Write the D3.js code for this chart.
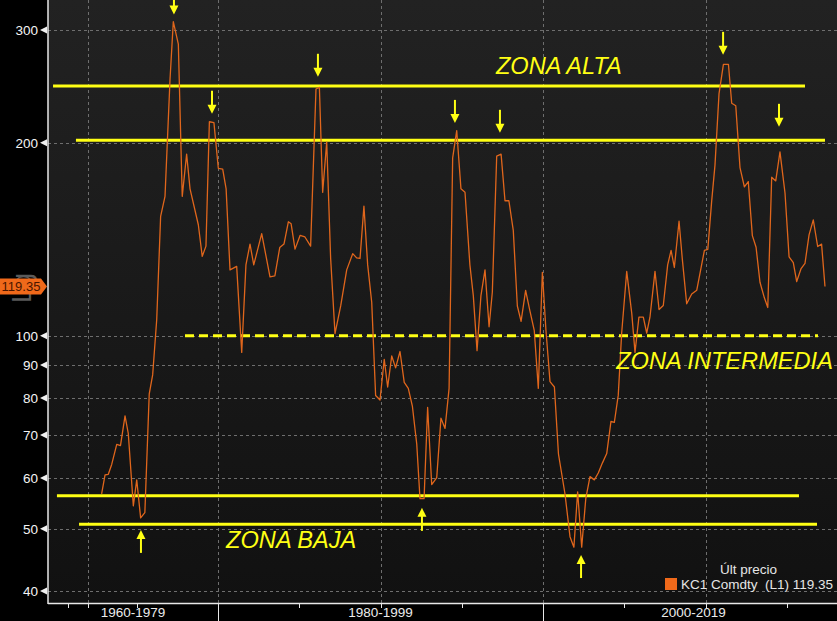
<!DOCTYPE html>
<html>
<head>
<meta charset="utf-8">
<script src="https://cdn.jsdelivr.net/npm/d3@7/dist/d3.min.js"></script>
<style>
  html, body { margin: 0; padding: 0; background: #000; overflow: hidden; }
  svg { display: block; }
</style>
</head>
<body>
<script>
// ---------------- DATA ----------------
const years = [1972.84,1973.05,1973.25,1973.46,1973.77,1974.00,1974.28,1974.48,1974.79,1975.00,1975.24,1975.50,1975.77,1975.98,1976.23,1976.47,1976.74,1977.05,1977.25,1977.56,1977.80,1978.07,1978.28,1978.79,1979.03,1979.26,1979.47,1979.75,1980.02,1980.29,1980.50,1980.74,1981.15,1981.46,1981.72,1981.97,1982.20,1982.69,1983.20,1983.50,1983.80,1984.06,1984.33,1984.50,1984.74,1985.05,1985.35,1985.70,1986.03,1986.24,1986.44,1986.69,1986.93,1987.20,1987.55,1987.92,1988.29,1988.53,1988.74,1988.98,1989.21,1989.46,1989.70,1989.97,1990.23,1990.44,1990.69,1990.93,1991.20,1991.46,1991.71,1991.96,1992.23,1992.43,1992.68,1992.90,1993.15,1993.46,1993.72,1993.97,1994.22,1994.44,1994.69,1994.95,1995.20,1995.50,1995.71,1995.94,1996.18,1996.43,1996.68,1996.88,1997.15,1997.42,1997.66,1997.90,1998.17,1998.42,1998.65,1998.93,1999.20,1999.46,1999.71,1999.96,2000.18,2000.43,2000.70,2000.95,2001.35,2001.66,2001.90,2002.13,2002.38,2002.63,2002.89,2003.16,2003.40,2003.65,2003.92,2004.18,2004.39,2004.63,2004.84,2005.15,2005.46,2005.66,2005.90,2006.17,2006.38,2006.58,2006.89,2007.14,2007.40,2007.67,2007.88,2008.08,2008.37,2008.57,2008.84,2009.15,2009.46,2009.93,2010.14,2010.38,2010.58,2010.83,2011.10,2011.41,2011.61,2011.86,2012.12,2012.39,2012.63,2012.88,2013.11,2013.35,2013.62,2013.83,2014.07,2014.32,2014.58,2014.89,2015.14,2015.40,2015.61,2015.88,2016.12,2016.37,2016.63,2016.90,2017.14,2017.35];
const prices = [56.7,60.7,60.8,63.0,67.7,67.4,75.0,70.4,54.3,59.6,52.0,53.0,81.2,86.9,106.0,153.5,165.0,251.7,309.0,285.0,165.0,192.0,169.5,149.0,133.0,138.0,215.7,215.0,182.5,182.0,169.5,126.7,128.3,94.2,129.0,139.0,129.0,144.3,123.6,124.0,137.3,139.0,150.6,149.5,136.5,143.4,142.6,138.0,242.6,244.0,167.4,200.5,132.3,100.8,111.3,126.7,134.3,132.3,132.0,159.3,129.0,112.7,80.7,79.4,91.9,83.2,93.0,89.1,94.5,84.6,82.8,77.7,67.8,55.7,55.7,77.3,58.6,60.1,74.4,71.7,82.8,189.4,209.0,169.5,167.4,129.0,115.5,94.8,115.5,126.7,103.3,116.9,190.6,192.0,162.4,162.4,146.0,111.3,105.3,117.7,109.2,102.0,82.8,125.6,102.0,84.8,83.2,65.4,56.7,48.6,46.8,57.1,46.8,55.7,60.3,59.6,61.1,63.3,65.5,73.5,73.3,80.8,101.0,126.0,108.4,94.2,106.9,106.9,101.0,106.9,126.0,109.9,111.5,129.0,135.9,127.8,150.9,131.8,112.2,116.2,117.8,135.9,136.4,162.5,184.4,238.6,265.0,265.0,230.5,228.5,183.0,170.7,174.0,143.3,137.4,121.2,114.6,110.7,176.7,174.4,193.6,167.0,132.8,130.0,121.5,127.3,129.7,143.7,151.6,137.8,139.0,119.35];
const lastPrice = 119.35;
const seriesName = "KC1 Comdty  (L1) 119.35";
const legendTitle = "Últ precio";

const yTickValues = [300, 200, 100, 90, 80, 70, 60, 50, 40];
const xTickYears = [1970.8, 1972, 1975, 1980, 1985, 1990, 1995, 2000, 2005, 2010, 2015];
const xGridYears = [1972, 1980, 1990, 2000, 2010];
const xMajorYears = [1980, 2000];
const periodLabels = ["1960-1979", "1980-1999", "2000-2019"];
const periodStart = [1960, 1980, 2000];
const periodEnd = [1980, 2000, 2020];

// zone lines (value levels and year extents)
const zoneLevels = [245.3, 201.9, 100, 56.3, 50.8];
const zoneStart = [1969.85, 1971.26, 1977.97, 1970.09, 1971.45];
const zoneEnd = [2016.12, 2017.35, 2016.92, 2015.75, 2016.86];
const zoneDashed = [false, false, true, false, false];

const zoneTexts = ["ZONA ALTA", "ZONA INTERMEDIA", "ZONA BAJA"];
const zoneTextYears = [1997.1, 2004.5, 1980.5];
const zoneTextLevel = [245.3, 100, 50.8];

// arrows: year, value at tip, direction
const arrowYears = [1977.29, 1979.63, 1986.15, 1994.58, 1997.35, 2011.08, 2014.52, 1975.26, 1992.55, 2002.34];
const arrowTips = [317, 222, 253.5, 214.8, 207.3, 274.3, 211.8, 49.8, 53.9, 45.5];
const arrowDirs = ["down","down","down","down","down","down","down","up","up","up"];

// ---------------- CHART ----------------
const W = 837, H = 621;
const left = 48, bottom = 603;
const x = d3.scaleLinear().domain([1969.54, 2018.52]).range([left, 844]);
const y = d3.scaleLog().domain([38.3, 334]).range([bottom, 0]);

const svg = d3.select("body").append("svg").attr("width", W).attr("height", H);
const defs = svg.append("defs");
const grad = defs.append("linearGradient").attr("id", "bg").attr("x1", 0).attr("y1", 0).attr("x2", 0).attr("y2", 1);
grad.append("stop").attr("offset", "0%").attr("stop-color", "#222222");
grad.append("stop").attr("offset", "100%").attr("stop-color", "#111111");
defs.append("clipPath").attr("id", "plotclip").append("rect")
  .attr("x", left).attr("y", 0).attr("width", W - left).attr("height", bottom);

svg.append("rect").attr("width", W).attr("height", H).attr("fill", "#000");
svg.append("rect").attr("x", left).attr("y", 0).attr("width", W - left).attr("height", bottom).attr("fill", "url(#bg)");

const plot = svg.append("g").attr("clip-path", "url(#plotclip)");

// grid
plot.selectAll(".hg").data(yTickValues).enter().append("line")
  .attr("x1", left).attr("x2", W).attr("y1", d => Math.round(y(d)) + 0.5).attr("y2", d => Math.round(y(d)) + 0.5)
  .attr("stroke", "#6e6e6e").attr("stroke-width", 1).attr("stroke-dasharray", "3,3");
plot.selectAll(".vg").data(xGridYears).enter().append("line")
  .attr("y1", 0).attr("y2", bottom).attr("x1", d => Math.round(x(d)) + 0.5).attr("x2", d => Math.round(x(d)) + 0.5)
  .attr("stroke", "#6e6e6e").attr("stroke-width", 1).attr("stroke-dasharray", "3,3");

// zone lines
const zones = zoneLevels.map((v, i) => ({v, s: zoneStart[i], e: zoneEnd[i], dashed: zoneDashed[i]}));
plot.selectAll(".zone").data(zones).enter().append("line")
  .attr("x1", d => x(d.s)).attr("x2", d => x(d.e))
  .attr("y1", d => y(d.v)).attr("y2", d => y(d.v))
  .attr("stroke", "#ffff14").attr("stroke-width", 3)
  .attr("stroke-dasharray", d => d.dashed ? "9,5" : null);

// price line
const data = years.map((yr, i) => ({year: yr, value: prices[i]}));
plot.append("path").datum(data)
  .attr("fill", "none").attr("stroke", "#e0661c").attr("stroke-width", 1.3).attr("stroke-linejoin", "round")
  .attr("d", d3.line().x(d => x(d.year)).y(d => y(d.value)));

// arrows
const arrows = arrowYears.map((yr, i) => ({year: yr, tip: arrowTips[i], dir: arrowDirs[i]}));
const ag = plot.selectAll(".arrow").data(arrows).enter().append("g");
ag.append("line")
  .attr("x1", d => x(d.year)).attr("x2", d => x(d.year))
  .attr("y1", d => d.dir === "down" ? y(d.tip) - 23 : y(d.tip) + 23)
  .attr("y2", d => d.dir === "down" ? y(d.tip) - 6 : y(d.tip) + 6)
  .attr("stroke", "#ffff14").attr("stroke-width", 2);
ag.append("path")
  .attr("d", d => {
    const cx = x(d.year), ty = y(d.tip);
    const s = d.dir === "down" ? -1 : 1;
    return `M${cx},${ty} L${cx - 4.5},${ty + s * 9} L${cx + 4.5},${ty + s * 9} Z`;
  })
  .attr("fill", "#ffff14");

// zone texts
const zoneOffsets = [-12, 33, 24];
svg.selectAll(".ztxt").data(zoneTexts).enter().append("text")
  .attr("x", (d, i) => x(zoneTextYears[i]))
  .attr("y", (d, i) => y(zoneTextLevel[i]) + zoneOffsets[i])
  .attr("fill", "#ffff14").attr("font-family", "Liberation Sans, Arial, sans-serif")
  .attr("font-style", "italic").attr("font-size", "23.6px")
  .text(d => d);

// axes lines
svg.append("line").attr("x1", left).attr("x2", left).attr("y1", 0).attr("y2", bottom + 1)
  .attr("stroke", "#e8e8e8").attr("stroke-width", 1.5);
svg.append("line").attr("x1", left).attr("x2", W).attr("y1", bottom + 0.5).attr("y2", bottom + 0.5)
  .attr("stroke", "#e8e8e8").attr("stroke-width", 1.5);

// "Lg" label
svg.append("text").attr("transform", `translate(31,288) rotate(-90)`)
  .attr("text-anchor", "middle").attr("fill", "#5a5a5a")
  .attr("font-family", "Liberation Sans, Arial, sans-serif").attr("font-size", "27px")
  .text("Lg");

// y ticks
const yt = svg.selectAll(".yt").data(yTickValues).enter().append("g");
yt.append("path").attr("d", d => {
  const ty = y(d);
  return `M${left - 8},${ty} L${left - 1},${ty - 3.5} L${left - 1},${ty + 3.5} Z`;
}).attr("fill", "#f0f0f0");
yt.append("text").attr("x", left - 10).attr("y", d => y(d) + 5)
  .attr("text-anchor", "end").attr("fill", "#f4f4f4")
  .attr("font-family", "Liberation Sans, Arial, sans-serif").attr("font-size", "13.5px")
  .text(d => d);

// x ticks
svg.selectAll(".xt").data(xTickYears).enter().append("line")
  .attr("x1", d => Math.round(x(d)) + 0.5).attr("x2", d => Math.round(x(d)) + 0.5)
  .attr("y1", bottom).attr("y2", d => xMajorYears.includes(d) ? H : bottom + 5)
  .attr("stroke", "#e8e8e8").attr("stroke-width", 1);

// period labels
const [d0, d1] = x.domain();
svg.selectAll(".pl").data(periodLabels).enter().append("text")
  .attr("x", (d, i) => (x(Math.max(periodStart[i], d0)) + x(Math.min(periodEnd[i], d1))) / 2)
  .attr("y", 617).attr("text-anchor", "middle").attr("fill", "#ececec")
  .attr("font-family", "Liberation Sans, Arial, sans-serif").attr("font-size", "13.5px")
  .text(d => d);

// last price tag
const ly = y(lastPrice);
svg.append("path").attr("d", `M0,${ly - 8} L41,${ly - 8} L47,${ly} L41,${ly + 8} L0,${ly + 8} Z`).attr("fill", "#f0691a");
svg.append("text").attr("x", 21).attr("y", ly + 4.5).attr("text-anchor", "middle")
  .attr("fill", "#4a1600").attr("font-family", "Liberation Sans, Arial, sans-serif").attr("font-size", "13px")
  .text(d3.format(".2f")(lastPrice));

// legend
svg.append("text").attr("x", 720).attr("y", 574).attr("fill", "#e6e6e6")
  .attr("font-family", "Liberation Sans, Arial, sans-serif").attr("font-size", "13.5px").text(legendTitle);
svg.append("rect").attr("x", 665).attr("y", 578).attr("width", 12).attr("height", 12).attr("fill", "#f0691a");
svg.append("text").attr("x", 681).attr("y", 589).attr("fill", "#e6e6e6")
  .attr("font-family", "Liberation Sans, Arial, sans-serif").attr("font-size", "13.5px")
  .style("white-space", "pre").text(seriesName);
</script>
</body>
</html>
